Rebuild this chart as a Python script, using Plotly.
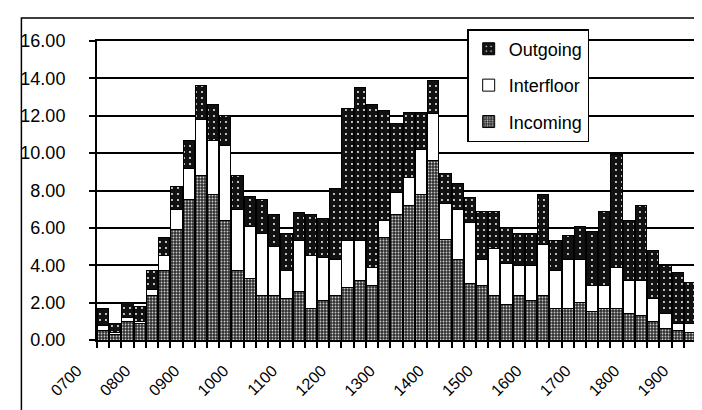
import plotly.graph_objects as go

times = ["0700", "0715", "0730", "0745", "0800", "0815", "0830", "0845",
         "0900", "0915", "0930", "0945", "1000", "1015", "1030", "1045",
         "1100", "1115", "1130", "1145", "1200", "1215", "1230", "1245",
         "1300", "1315", "1330", "1345", "1400", "1415", "1430", "1445",
         "1500", "1515", "1530", "1545", "1600", "1615", "1630", "1645",
         "1700", "1715", "1730", "1745", "1800", "1815", "1830", "1845",
         "1900"]
hour_labels = ["0700", "0800", "0900", "1000", "1100", "1200", "1300",
               "1400", "1500", "1600", "1700", "1800", "1900"]

incoming = [0.5, 0.3, 1.0, 0.9, 2.4, 3.7, 5.9, 7.5, 8.8, 7.8, 6.4, 3.7,
            3.3, 2.4, 2.4, 2.2, 2.6, 1.7, 2.1, 2.4, 2.8, 3.2, 2.9, 5.5,
            6.7, 7.2, 7.8, 9.6, 5.4, 4.3, 3.0, 2.9, 2.4, 1.9, 2.4, 2.1,
            2.4, 1.7, 1.7, 2.0, 1.5, 1.7, 1.7, 1.4, 1.3, 1.0, 0.6, 0.5,
            0.4]
interfloor = [0.3, 0.1, 0.2, 0.1, 0.3, 0.8, 1.1, 1.7, 3.0, 2.9, 4.0, 3.3,
              2.8, 3.3, 2.6, 1.5, 2.7, 2.8, 2.3, 1.9, 2.5, 2.1, 1.0, 0.9,
              1.2, 1.5, 2.4, 2.5, 1.9, 2.7, 3.3, 1.4, 2.5, 2.2, 1.6, 1.9,
              2.7, 2.0, 2.6, 2.3, 1.4, 1.2, 2.2, 1.8, 1.9, 1.2, 0.8, 0.4,
              0.5]
outgoing = [0.9, 0.5, 0.8, 0.8, 1.0, 1.0, 1.2, 1.5, 1.8, 1.9, 1.6, 1.8,
            1.6, 1.8, 1.7, 2.0, 1.5, 2.2, 2.1, 3.8, 7.1, 8.2, 8.7, 5.9,
            3.7, 3.5, 2.0, 1.8, 1.6, 1.4, 1.3, 2.6, 2.0, 1.9, 1.7, 1.7,
            2.7, 1.6, 1.3, 1.8, 2.9, 4.0, 6.0, 3.2, 4.0, 2.6, 2.6, 2.7,
            2.2]

FONT = "Liberation Sans, Arial, sans-serif"

fig = go.Figure()
fig.add_trace(go.Bar(
    x=times, y=incoming, name="Incoming", legendgroup="inc", legendrank=3,
    marker=dict(color="#2e2e2e", line=dict(color="black", width=1),
                pattern=dict(shape=".", fgcolor="#cccccc", bgcolor="#2e2e2e",
                             size=3, solidity=0.3, fillmode="replace")),
))
fig.add_trace(go.Bar(
    x=times, y=interfloor, name="Interfloor", legendgroup="int", legendrank=2,
    marker=dict(color="white", line=dict(color="black", width=1)),
))
fig.add_trace(go.Bar(
    x=times, y=outgoing, name="Outgoing", legendgroup="out", legendrank=1,
    marker=dict(color="#111111", line=dict(color="black", width=1),
                pattern=dict(shape=".", fgcolor="white", bgcolor="#111111",
                             size=6, solidity=0.08, fillmode="replace")),
))

fig.update_layout(
    width=702, height=410,
    barmode="stack", bargap=0.08,
    paper_bgcolor="white", plot_bgcolor="white",
    margin=dict(l=88, r=12, t=33, b=78),
    font=dict(family=FONT, color="black", size=18),
    legend=dict(
        x=0.618, y=1.04, xanchor="left", yanchor="top",
        bgcolor="white", bordercolor="black", borderwidth=1.5,
        font=dict(family=FONT, size=18, color="black"),
        traceorder="grouped", tracegroupgap=10,
    ),
    xaxis=dict(
        type="category", tickmode="array", tickvals=times,
        ticktext=[t if t in hour_labels else "" for t in times],
        tickson="boundaries", ticks="outside", ticklen=6, tickwidth=1.5,
        tickcolor="black", tickangle=-45,
        tickfont=dict(family=FONT, size=16, color="black"),
        ticklabelstandoff=13, ticklabelshift=-26,
        showline=True, linecolor="black", linewidth=2, mirror=True,
        showgrid=False, zeroline=False,
    ),
    yaxis=dict(
        range=[0, 16], dtick=2, tickformat=".2f",
        ticks="outside", ticklen=6, tickwidth=1.5, tickcolor="black",
        ticklabelstandoff=20,
        tickfont=dict(family=FONT, size=18, color="black"),
        showgrid=True, gridcolor="black", gridwidth=1.5,
        showline=True, linecolor="black", linewidth=2, mirror=True,
        zeroline=False,
    ),
    shapes=[dict(
        type="rect", xref="paper", yref="paper",
        x0=-0.1262, x1=1.015, y0=-0.254, y1=1.0769,
        line=dict(color="black", width=1.5), fillcolor="rgba(0,0,0,0)",
        layer="below",
    )],
)

fig.write_html("out.html")
